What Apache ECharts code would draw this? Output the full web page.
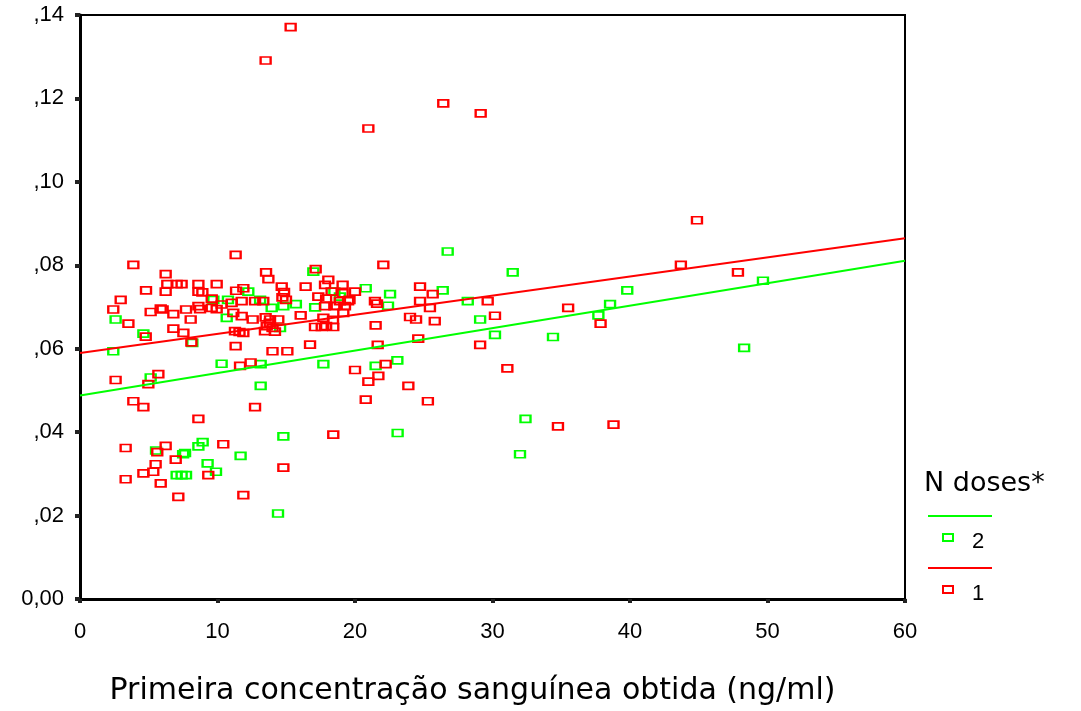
<!DOCTYPE html>
<html>
<head>
<meta charset="utf-8">
<script src="https://cdn.jsdelivr.net/npm/echarts@6/dist/echarts.min.js"></script>
<style>
  html, body { margin: 0; padding: 0; background: #fff; }
  #chart { width: 1081px; height: 711px; }
</style>
</head>
<body>
<div id="chart"></div>
<script>
// N doses = 2 (green)
const dose2 = [
  [9.7, 0.0717], [2.59, 0.067], [4.61, 0.0636], [8.17, 0.0614], [2.42, 0.0594],
  [10.3, 0.0564], [5.14, 0.0531], [16.97, 0.0785], [12.24, 0.0737], [18.5, 0.0737],
  [10.76, 0.0717], [10.67, 0.0674], [13.1, 0.0717], [13.94, 0.0698], [14.79, 0.0702],
  [15.7, 0.0707], [14.55, 0.065], [17.1, 0.0699], [13.14, 0.0563], [17.7, 0.0563],
  [13.14, 0.0511], [18.9, 0.0725], [26.74, 0.0833], [31.47, 0.0783], [20.78, 0.0745],
  [22.55, 0.0731], [26.38, 0.074], [22.4, 0.0703], [28.2, 0.0714], [29.1, 0.067],
  [30.18, 0.0633], [23.08, 0.0572], [21.5, 0.0559], [5.53, 0.0356], [7.64, 0.035],
  [7.5, 0.0347], [8.61, 0.0366], [8.92, 0.0376], [11.68, 0.0343], [9.28, 0.0325],
  [9.89, 0.0305], [7.03, 0.0297], [7.39, 0.0297], [7.71, 0.0297], [14.79, 0.039],
  [14.4, 0.0205], [23.1, 0.0398], [32.4, 0.0432], [32.0, 0.0347], [49.67, 0.0763],
  [39.8, 0.074], [38.55, 0.0707], [37.7, 0.068], [34.4, 0.0628], [48.3, 0.0602]
];

// N doses = 1 (red)
const dose1 = [
  [3.88, 0.0801], [6.23, 0.0779], [6.35, 0.0755], [7.03, 0.0755], [7.39, 0.0755],
  [8.61, 0.0755], [9.94, 0.0755], [4.8, 0.074], [6.23, 0.0737], [8.61, 0.0737],
  [8.9, 0.0735], [2.96, 0.0717], [9.58, 0.072], [2.42, 0.0694], [5.14, 0.0688],
  [5.87, 0.0696], [6.01, 0.0694], [6.79, 0.0683], [7.71, 0.0694], [8.61, 0.0702],
  [8.73, 0.0695], [9.58, 0.0698], [9.94, 0.0695], [8.05, 0.067], [3.52, 0.066],
  [6.79, 0.0648], [7.52, 0.0638], [4.78, 0.0629], [8.1, 0.0615], [2.59, 0.0525],
  [5.7, 0.0539], [4.97, 0.0515],
  [11.32, 0.0825], [17.14, 0.0791], [13.53, 0.0783], [13.7, 0.0767], [11.88, 0.0745],
  [11.35, 0.0739], [14.67, 0.0749], [14.84, 0.0736], [14.72, 0.0723], [14.98, 0.0717],
  [16.41, 0.0749], [18.06, 0.0765], [17.82, 0.0753], [19.1, 0.0753], [18.3, 0.0737],
  [17.33, 0.0725], [17.9, 0.072], [18.9, 0.0714], [12.73, 0.0714], [13.33, 0.0714],
  [14.42, 0.067], [13.82, 0.067], [13.5, 0.0675], [12.56, 0.067], [11.76, 0.0678],
  [16.05, 0.068], [13.58, 0.0654], [14.0, 0.065], [13.45, 0.0642], [14.18, 0.0641],
  [11.27, 0.0642], [11.6, 0.064], [11.88, 0.0638], [17.09, 0.0652], [17.58, 0.0652],
  [18.42, 0.0652], [17.9, 0.0654], [17.7, 0.0674], [18.4, 0.0669], [17.82, 0.0702],
  [18.5, 0.0702], [19.27, 0.0702], [19.15, 0.0686], [11.32, 0.0606], [14.0, 0.0594],
  [15.08, 0.0594], [16.73, 0.061], [11.64, 0.0559], [12.41, 0.0567], [20.0, 0.0549],
  [10.3, 0.0706], [11.03, 0.071], [11.76, 0.0714], [11.15, 0.0686], [13.8, 0.0662],
  [19.1, 0.0733], [18.67, 0.0703], [19.6, 0.0717],
  [22.06, 0.0801], [24.73, 0.0749], [20.0, 0.0737], [25.65, 0.0731], [19.5, 0.0714],
  [21.45, 0.0714], [21.6, 0.0708], [24.73, 0.0714], [25.45, 0.0698], [29.65, 0.0714],
  [24.0, 0.0676], [24.44, 0.067], [25.8, 0.0666], [30.18, 0.0679], [21.5, 0.0656],
  [24.6, 0.0624], [29.1, 0.0609], [21.65, 0.0609], [22.23, 0.0563], [31.08, 0.0553],
  [20.97, 0.0521], [21.7, 0.0535], [23.88, 0.0511],
  [3.88, 0.0474], [4.61, 0.046], [12.73, 0.046], [8.61, 0.0432], [3.32, 0.0362],
  [5.62, 0.0352], [6.23, 0.0367], [10.42, 0.0371], [6.96, 0.0334], [5.5, 0.0323],
  [5.33, 0.0305], [4.61, 0.0301], [9.33, 0.0297], [3.32, 0.0287], [5.87, 0.0277],
  [7.15, 0.0245], [11.88, 0.0249], [14.79, 0.0315],
  [20.78, 0.0478], [25.3, 0.0474], [18.42, 0.0394],
  [44.87, 0.0908], [43.7, 0.0801], [47.85, 0.0783], [37.86, 0.066], [35.5, 0.0698],
  [34.76, 0.0414], [38.8, 0.0418],
  [15.32, 0.1371], [13.5, 0.1291], [26.42, 0.1188], [29.14, 0.1164], [20.97, 0.1128]
];

// fitted lines, endpoints at x = 0 and x = 60
const fit2 = [[0, 0.0488], [60, 0.0811]];
const fit1 = [[0, 0.059], [60, 0.0865]];

const xTicks = [0, 10, 20, 30, 40, 50, 60];
const yTicks = [0, 0.02, 0.04, 0.06, 0.08, 0.1, 0.12, 0.14];

const GREEN = '#00ff00';
const RED = '#ff0000';
const FONT = 'Liberation Sans';
const WIDE = 'DejaVu Sans';

function yLabel(v) {
    if (Math.abs(v) < 1e-9) return '0,00';
    return ',' + String(Math.round(v * 100)).padStart(2, '0');
}

const chart = echarts.init(document.getElementById('chart'));

const scatterStyle = (color) => ({
    type: 'scatter',
    symbol: 'rect',
    symbolSize: [10, 7],
    itemStyle: { color: 'rgba(0,0,0,0)', borderColor: color, borderWidth: 2, opacity: 1 },
    emphasis: { disabled: true },
    z: 3,
});

const lineStyle = (color) => ({
    type: 'line',
    symbol: 'none',
    lineStyle: { color: color, width: 2 },
    silent: true,
    z: 4,
});

const tickLabel = { color: '#000', fontSize: 22, fontFamily: FONT };

chart.setOption({
    animation: false,
    backgroundColor: '#fff',
    grid: {
        left: 80,
        right: 176,
        top: 15,
        bottom: 108,
        show: true,
        borderColor: '#000',
        borderWidth: 2,
        backgroundColor: 'transparent',
    },
    xAxis: {
        type: 'value',
        min: xTicks[0],
        max: xTicks[xTicks.length - 1],
        interval: 10,
        splitLine: { show: false },
        axisLine: { show: true, onZero: false, lineStyle: { color: '#000', width: 3 } },
        axisTick: { show: true, length: 4, lineStyle: { color: '#222', width: 4 } },
        axisLabel: { ...tickLabel, margin: 22 },
        name: 'Primeira concentração sanguínea obtida (ng/ml)',
        nameLocation: 'middle',
        nameGap: 77,
        nameTextStyle: { color: '#000', fontSize: 30, fontFamily: WIDE, padding: [0, 40, 0, 0] },
    },
    yAxis: {
        type: 'value',
        min: yTicks[0],
        max: yTicks[yTicks.length - 1],
        interval: 0.02,
        splitLine: { show: false },
        axisLine: { show: true, onZero: false, lineStyle: { color: '#000', width: 3 } },
        axisTick: { show: true, length: 5, lineStyle: { color: '#222', width: 4 } },
        axisLabel: { ...tickLabel, margin: 16, formatter: yLabel },
    },
    series: [
        { name: '2', data: dose2, ...scatterStyle(GREEN) },
        { name: '1', data: dose1, ...scatterStyle(RED) },
        { name: 'fit2', data: fit2, ...lineStyle(GREEN) },
        { name: 'fit1', data: fit1, ...lineStyle(RED) },
    ],
    graphic: [
        { type: 'text', left: 924, top: 470, style: { text: 'N doses*', fill: '#000', fontSize: 27, fontFamily: WIDE } },
        { type: 'line', shape: { x1: 928, y1: 516, x2: 992, y2: 516 }, style: { stroke: GREEN, lineWidth: 2 } },
        { type: 'rect', shape: { x: 943, y: 534, width: 10, height: 7 }, style: { fill: 'none', stroke: GREEN, lineWidth: 2 } },
        { type: 'text', left: 972, top: 531, style: { text: '2', fill: '#000', fontSize: 22, fontFamily: FONT } },
        { type: 'line', shape: { x1: 928, y1: 568, x2: 992, y2: 568 }, style: { stroke: RED, lineWidth: 2 } },
        { type: 'rect', shape: { x: 943, y: 586, width: 10, height: 7 }, style: { fill: 'none', stroke: RED, lineWidth: 2 } },
        { type: 'text', left: 972, top: 583, style: { text: '1', fill: '#000', fontSize: 22, fontFamily: FONT } },
    ],
});
</script>
</body>
</html>
